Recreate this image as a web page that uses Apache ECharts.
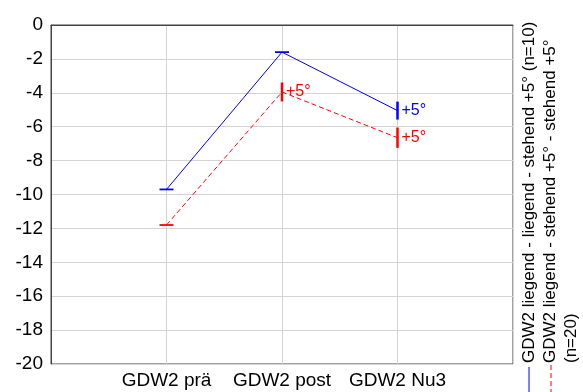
<!DOCTYPE html>
<html>
<head>
<meta charset="utf-8">
<script src="https://cdn.jsdelivr.net/npm/echarts@6/dist/echarts.min.js"></script>
<style>
html,body{margin:0;padding:0;background:#fff;}
#chart{width:583px;height:392px;}
</style>
</head>
<body>
<div id="chart"></div>
<script>
// ---- data ----
var categories = ['GDW2 prä', 'GDW2 post', 'GDW2 Nu3'];
var seriesNames = ['GDW2 liegend - liegend - stehend +5° (n=10)', 'GDW2 liegend - stehend +5° - stehend +5° (n=20)'];
var blueMeans = [-9.7, -1.6, -5.05];
var redMeans = [-11.8, -3.95, -6.65];
var blueErr = [0, 0, 0.53];
var redErr = [0, 0.56, 0.6];
var blueMarks = ['', '', '+5°'];
var redMarks = ['', '+5°', '+5°'];
var yTicks = { min: -20, max: 0, step: 2 };

var FONT = '"Liberation Sans", Arial, sans-serif';
var BLUE = '#0000ff', RED = '#ff0000';

function pts(vals){ return vals.map(function(v,i){ return [i+1, v]; }); }
function errPts(vals, errs, marks){ return vals.map(function(v,i){ return [i+1, v, errs[i], marks[i]]; }); }

function makeErrRender(color){
  return function(params, api){
    var x = api.value(0), y = api.value(1), e = api.value(2);
    var mark = params.dataIndex !== undefined ? api.value(3) : '';
    var c = api.coord([x, y]);
    var children = [];
    if (e === 0) {
      children.push({type:'line', shape:{x1:c[0]-7, y1:c[1], x2:c[0]+7, y2:c[1]}, style:{stroke:color, lineWidth:1.8}});
    } else {
      var top = api.coord([x, y + e]), bot = api.coord([x, y - e]);
      children.push({type:'line', shape:{x1:c[0], y1:top[1], x2:c[0], y2:bot[1]}, style:{stroke:color, lineWidth:2.5}});
    }
    if (mark) {
      children.push({type:'text', x:c[0]+4, y:c[1], style:{text:String(mark), fill:color, font:'16px '+FONT, textAlign:'left', textVerticalAlign:'middle'}});
    }
    return {type:'group', children:children};
  };
}

var chart = echarts.init(document.getElementById('chart'), null, {renderer:'canvas'});
var option = {
  animation: false,
  backgroundColor: '#fff',
  grid: { left: 51, right: 70, top: 25, bottom: 28, show: true, borderColor: '#444', borderWidth: 1, backgroundColor: 'transparent' },
  xAxis: {
    type: 'value', min: 0, max: categories.length + 1, interval: 1,
    axisLine: { show: true, lineStyle: { color: '#444', width: 1 } },
    axisTick: { show: false },
    splitLine: { show: true, lineStyle: { color: '#d4d4d4', width: 1 } },
    axisLabel: {
      margin: 7, color: '#000', fontSize: 19, fontFamily: FONT,
      formatter: function(v){ var i = Math.round(v) - 1; return (i >= 0 && i < categories.length) ? categories[i] : ''; }
    }
  },
  yAxis: {
    type: 'value', min: yTicks.min, max: yTicks.max, interval: yTicks.step,
    axisLine: { show: true, lineStyle: { color: '#444', width: 1 } },
    axisTick: { show: false },
    splitLine: { show: true, lineStyle: { color: '#d4d4d4', width: 1 } },
    axisLabel: { margin: 8, color: '#000', fontSize: 19, fontFamily: FONT }
  },
  series: [
    { name: seriesNames[0], type: 'line', data: pts(blueMeans), showSymbol: false, symbol: 'none',
      lineStyle: { color: BLUE, width: 1 }, z: 3 },
    { name: seriesNames[1], type: 'line', data: pts(redMeans), showSymbol: false, symbol: 'none',
      lineStyle: { color: RED, width: 1, type: [5, 3] }, z: 3 },
    { type: 'custom', data: errPts(blueMeans, blueErr, blueMarks), renderItem: makeErrRender(BLUE), z: 4,
      encode: { x: 0, y: 1 } },
    { type: 'custom', data: errPts(redMeans, redErr, redMarks), renderItem: makeErrRender(RED), z: 4,
      encode: { x: 0, y: 1 } }
  ],
  graphic: [
    { type: 'text', x: 529 - 10.5, y: 363, rotation: Math.PI / 2,
      style: { text: seriesNames[0], font: '17px ' + FONT, fill: '#000', textAlign: 'left', textVerticalAlign: 'top', width: 355, overflow: 'break', lineHeight: 21 } },
    { type: 'text', x: 550 - 10.5, y: 363, rotation: Math.PI / 2,
      style: { text: seriesNames[1], font: '17px ' + FONT, fill: '#000', textAlign: 'left', textVerticalAlign: 'top', width: 355, overflow: 'break', lineHeight: 21 } },
    { type: 'line', shape: { x1: 529, y1: 367, x2: 529, y2: 392 }, style: { stroke: BLUE, lineWidth: 1 } },
    { type: 'line', shape: { x1: 551, y1: 365, x2: 551, y2: 392 }, style: { stroke: RED, lineWidth: 1, lineDash: [5, 3] } }
  ]
};
chart.setOption(option);
</script>
</body>
</html>
